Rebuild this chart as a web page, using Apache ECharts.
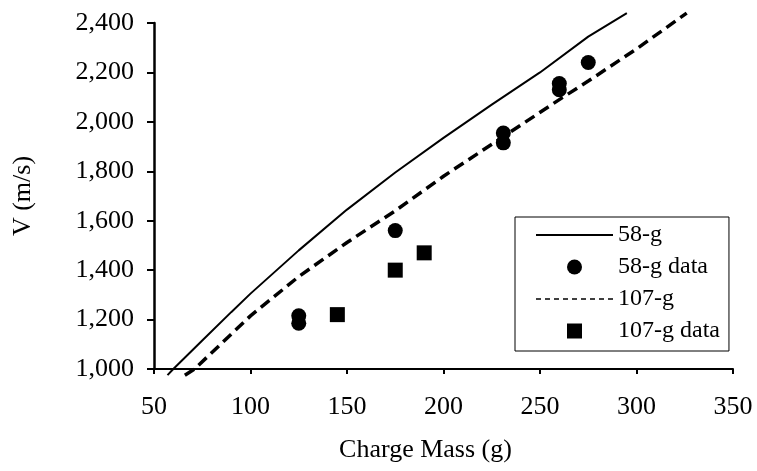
<!DOCTYPE html>
<html>
<head>
<meta charset="utf-8">
<script src="https://cdn.jsdelivr.net/npm/echarts@6/dist/echarts.min.js"></script>
<style>html,body{margin:0;padding:0;background:#fff;}#c{width:757px;height:471px;}</style>
</head>
<body>
<div id="c"></div>
<script>
// Model curve 58-g
var mass58 = [57, 60, 75, 90, 100, 125, 150, 175, 200, 225, 250, 275, 295];
var v58 = [975, 1000, 1115, 1230, 1305, 1480, 1645, 1795, 1935, 2070, 2200, 2345, 2440];
// Model curve 107-g
var mass107 = [66, 71, 100, 125, 150, 175, 200, 230, 260, 275, 300, 326];
var v107 = [975, 1000, 1215, 1374, 1512, 1640, 1780, 1935, 2090, 2165, 2295, 2440];
// Measured data
var data58Mass = [125, 125, 175, 231, 231, 260, 260, 275];
var data58V = [1215, 1185, 1560, 1955, 1915, 2155, 2130, 2240];
var data107Mass = [145, 175, 190];
var data107V = [1220, 1400, 1470];
// Axis ticks
var xTicks = [50, 100, 150, 200, 250, 300, 350];
var yTicks = [1000, 1200, 1400, 1600, 1800, 2000, 2200, 2400];

function zip(a, b) { return a.map(function (v, i) { return [v, b[i]]; }); }
function fmt(v) { return String(v).replace(/\B(?=(\d{3})+(?!\d))/g, ','); }

var FONT = 'Liberation Serif';
var chart = echarts.init(document.getElementById('c'), null, {renderer: 'canvas'});
chart.setOption({
  animation: false,
  backgroundColor: '#fff',
  grid: {left: 154, right: 24, top: 23, bottom: 102, containLabel: false},
  xAxis: {
    type: 'value',
    min: xTicks[0], max: xTicks[xTicks.length - 1], interval: 50,
    name: 'Charge Mass (g)',
    nameLocation: 'middle',
    nameGap: 68,
    nameTextStyle: {fontFamily: FONT, fontSize: 26, color: '#000', padding: [0, 36, 0, 0]},
    axisLine: {show: true, onZero: false, lineStyle: {color: '#000', width: 2}},
    axisTick: {show: true, inside: false, length: 5, lineStyle: {color: '#000', width: 2}},
    axisLabel: {fontFamily: FONT, fontSize: 26, color: '#000', margin: 25},
    splitLine: {show: false}
  },
  yAxis: {
    type: 'value',
    min: yTicks[0], max: yTicks[yTicks.length - 1], interval: 200,
    name: 'V (m/s)',
    nameLocation: 'middle',
    nameGap: 118,
    nameRotate: 90,
    nameTextStyle: {fontFamily: FONT, fontSize: 26, color: '#000'},
    axisLine: {show: true, onZero: false, lineStyle: {color: '#000', width: 2.5}},
    axisTick: {show: true, inside: false, length: 7, lineStyle: {color: '#000', width: 2}},
    axisLabel: {fontFamily: FONT, fontSize: 26, color: '#000', margin: 20, formatter: fmt},
    splitLine: {show: false}
  },
  legend: {
    orient: 'vertical',
    left: 515, top: 217,
    backgroundColor: '#fff',
    borderColor: '#000', borderWidth: 1,
    padding: [6, 9, 8, 20],
    itemGap: 8,
    itemWidth: 77, itemHeight: 15,
    textStyle: {fontFamily: FONT, fontSize: 24, color: '#000'},
    data: [
      {name: '58-g', itemStyle: {opacity: 0}},
      {name: '58-g data', icon: 'circle'},
      {name: '107-g', itemStyle: {opacity: 0}, lineStyle: {width: 1.5, type: [5, 4]}},
      {name: '107-g data', icon: 'path://M0,0L12,0L12,12L0,12Z'}
    ]
  },
  series: [
    {
      name: '58-g', type: 'line', data: zip(mass58, v58),
      symbol: 'none', smooth: false, clip: false,
      lineStyle: {color: '#000', width: 2}, itemStyle: {color: '#000'}
    },
    {
      name: '58-g data', type: 'scatter', data: zip(data58Mass, data58V),
      symbol: 'circle', symbolSize: 15, itemStyle: {color: '#000', opacity: 1}
    },
    {
      name: '107-g', type: 'line', data: zip(mass107, v107),
      symbol: 'none', smooth: false, clip: false,
      lineStyle: {color: '#000', width: 3.5, type: [11, 6]}, itemStyle: {color: '#000'}
    },
    {
      name: '107-g data', type: 'scatter', data: zip(data107Mass, data107V),
      symbol: 'rect', symbolSize: 15, itemStyle: {color: '#000', opacity: 1}
    }
  ]
});
</script>
</body>
</html>
